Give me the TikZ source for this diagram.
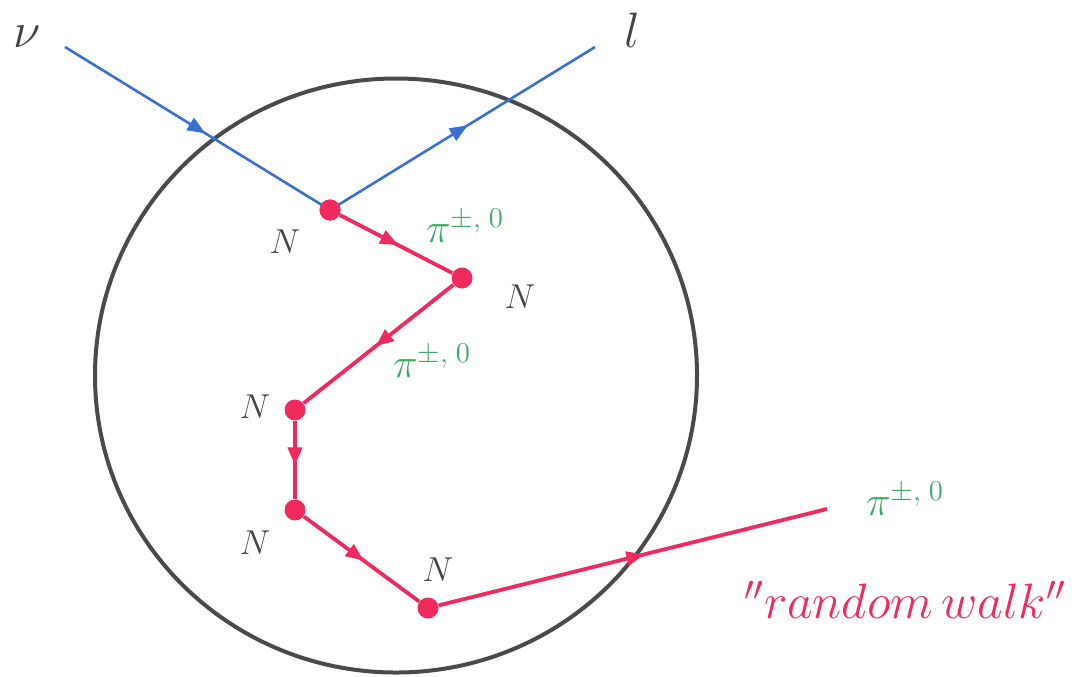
\documentclass[tikz,border=0pt]{standalone}
\usetikzlibrary{decorations.markings,arrows.meta}
\definecolor{nublue}{HTML}{3A6FD2}
\definecolor{walkred}{HTML}{F02A5C}
\definecolor{pigreen}{HTML}{3DAA62}
\definecolor{circgray}{HTML}{4A4A4A}
\definecolor{txtgray}{HTML}{444444}
\begin{document}
\begin{tikzpicture}[x=0.5pt,y=-0.5pt,
  midarrow/.style={postaction={decorate},decoration={markings,mark=at position #1 with {\arrow{Triangle[length=9pt,width=7pt]}}}},
  midarrow/.default=0.5,
  bluel/.style={draw=nublue,line width=1.3pt},
  redl/.style={draw=walkred,line width=1.9pt},
  dot/.style={circle,fill=walkred,inner sep=0pt,minimum size=10.5pt},
  nlab/.style={text=txtgray,font=\fontsize{18}{20}\selectfont,inner sep=0pt},
  pilab/.style={text=pigreen,font=\fontsize{21}{24}\selectfont,inner sep=0pt},
  biglab/.style={text=txtgray,font=\fontsize{27}{30}\selectfont,inner sep=0pt}]
\useasboundingbox (0,0) rectangle (1074,676);
% nucleus
\draw[circgray,line width=2pt] (396,375.5) ellipse [x radius=150.5pt, y radius=148.5pt];
% interaction points
\node[dot] (v1) at (330,210) {};
\node[dot] (v2) at (462,278) {};
\node[dot] (v3) at (295,410) {};
\node[dot] (v4) at (295,510) {};
\node[dot] (v5) at (428,608) {};
\coordinate (nuin) at (65,47);
\coordinate (lout) at (595,47);
\coordinate (piout) at (827,509);
% lepton lines
\draw[bluel,midarrow=0.53] (nuin) -- (v1.center);
\draw[bluel,midarrow=0.52] (v1.center) -- (lout);
% random walk
\draw[redl,midarrow=0.52] (v1) -- (v2);
\draw[redl,midarrow=0.52] (v2) -- (v3);
\draw[redl,midarrow=0.57] (v3) -- (v4);
\draw[redl,midarrow=0.52] (v4) -- (v5);
\draw[redl,midarrow=0.53] (v5) -- (piout);
\node[dot] at (v1) {};
% labels
\node[biglab] (nulab) at (27,37) {$\nu$};
\node[biglab] (llab) at (632,30) {$l$};
\node[nlab] (n1) at (285,242) {$N$};
\node[nlab] (n2) at (520,297) {$N$};
\node[nlab] (n3) at (255,407) {$N$};
\node[nlab] (n4) at (255,543) {$N$};
\node[nlab] (n5) at (438,570) {$N$};
\node[pilab] (p1) at (465,226) {$\pi^{\pm,\mkern5mu 0}$};
\node[pilab] (p2) at (432,361) {$\pi^{\pm,\mkern5mu 0}$};
\node[pilab] (p3) at (905,499) {$\pi^{\pm,\mkern5mu 0}$};
\node[text=walkred,font=\fontsize{24}{28}\selectfont,inner sep=0pt] (rw) at (905,600) {$''random\,walk''$};
\end{tikzpicture}
\end{document}
